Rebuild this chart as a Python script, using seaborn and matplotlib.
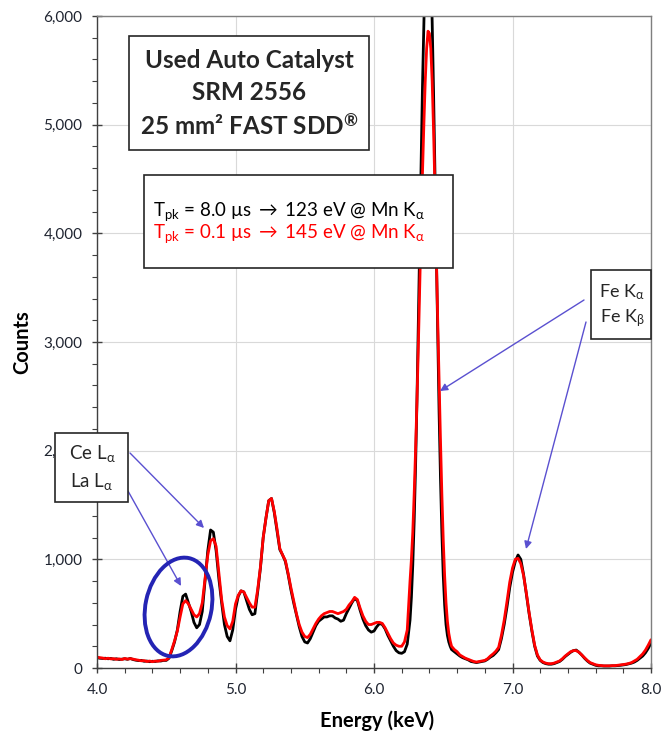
import numpy as np
import pandas as pd
import matplotlib
matplotlib.use("Agg")
import matplotlib.pyplot as plt
import seaborn as sns
from matplotlib.patches import Rectangle, Ellipse
from matplotlib.ticker import MultipleLocator, FuncFormatter

# ---------------- data ----------------
energy_kev = np.round(np.concatenate([
    np.arange(4.00, 6.245, 0.02),
    np.arange(6.26, 6.565, 0.01),
    np.arange(6.58, 8.005, 0.02)]), 2)

counts_8us = [
    # 4.00 - 4.48
    95, 90, 88, 90, 85, 88, 80, 85, 78, 82, 85, 80, 88, 78, 72, 68, 70, 62, 64, 58, 62, 60, 66, 64, 70,
    # 4.50 - 5.00
    70, 90, 160, 240, 350, 520, 660, 680, 600, 520, 420, 370, 400, 520, 800, 1080, 1270, 1250, 1080, 820,
    600, 400, 290, 250, 350, 540,
    # 5.02 - 6.24
    660, 710, 700, 620, 540, 490, 500, 700, 920, 1200, 1380, 1540, 1560, 1430, 1260, 1090, 1040, 980, 860, 720,
    600, 490, 380, 290, 240, 230, 270, 330, 390, 430, 450, 470, 470, 480, 480, 460, 450, 430, 440, 500,
    550, 600, 640, 620, 530, 450, 390, 350, 330, 340, 380, 410, 400, 360, 300, 250, 200, 160, 140, 135,
    150, 220,
    # 6.26 - 6.56 (0.01 step)
    440, 650, 950, 1350, 1850, 2450, 3150, 3900, 4650, 5350, 5950, 6450, 6800, 6900, 6800,
    6450, 5950, 5300, 4550, 3800, 3050, 2350, 1750, 1250, 850, 580, 400, 300, 240, 200, 170,
    # 6.58 - 8.00
    150, 130, 110, 95, 85, 75, 60, 55, 50, 55, 60, 65, 80, 100, 115, 140, 170,
    270, 400, 560, 740, 880, 980, 1040, 1000, 860, 680, 500, 340, 200, 110, 70,
    50, 40, 35, 35, 40, 50, 60, 80, 105, 125, 145, 160, 165, 145, 120,
    90, 65, 45, 35, 25, 20, 20, 18, 18, 18, 20, 20, 22, 25, 28,
    32, 38, 45, 55, 70, 90, 110, 140, 180, 230]

counts_01us = [
    # 4.00 - 4.48
    100, 95, 92, 85, 90, 84, 86, 80, 84, 78, 88, 82, 86, 82, 76, 72, 66, 68, 60, 64, 58, 64, 62, 70, 72,
    # 4.50 - 5.00
    75, 95, 170, 250, 340, 470, 590, 620, 590, 540, 490, 470, 500, 600, 820, 1040, 1170, 1190, 1120, 870,
    630, 470, 390, 360, 430, 590,
    # 5.02 - 6.24
    670, 710, 700, 650, 600, 560, 560, 720, 930, 1200, 1380, 1540, 1560, 1440, 1280, 1100, 1040, 990, 870, 740,
    620, 500, 400, 330, 290, 280, 310, 360, 410, 450, 480, 500, 510, 520, 520, 510, 500, 510, 520, 540,
    580, 610, 650, 630, 550, 480, 430, 400, 400, 410, 420, 420, 410, 370, 320, 270, 230, 210, 200, 200,
    240, 350,
    # 6.26 - 6.56 (0.01 step)
    800, 1000, 1250, 1600, 2000, 2450, 2950, 3500, 4050, 4550, 5000, 5400, 5700, 5860, 5840,
    5700, 5400, 4950, 4400, 3800, 3200, 2650, 2100, 1600, 1180, 850, 600, 430, 320, 250, 200,
    # 6.58 - 8.00
    170, 150, 120, 105, 90, 80, 70, 60, 55, 60, 65, 70, 85, 110, 130, 155, 190,
    300, 440, 610, 790, 920, 1000, 1010, 960, 850, 690, 510, 350, 210, 120, 75,
    55, 45, 40, 40, 45, 55, 65, 85, 110, 130, 150, 160, 160, 145, 120,
    95, 70, 50, 40, 30, 25, 22, 20, 20, 20, 22, 22, 25, 28, 32,
    36, 42, 50, 65, 80, 105, 130, 165, 210, 260]

series_names = ["8.0 µs", "0.1 µs"]
series_colors = ["#000000", "#FF0000"]
x_ticks = [4.0, 5.0, 6.0, 7.0, 8.0]
y_ticks = [0, 1000, 2000, 3000, 4000, 5000, 6000]

assert len(energy_kev) == len(counts_8us) == len(counts_01us), (len(energy_kev), len(counts_8us), len(counts_01us))

# ---------------- style ----------------
sns.set_theme(style="white")
plt.rcParams['font.family'] = ['Lato', 'DejaVu Sans']
plt.rcParams['mathtext.fontset'] = 'custom'
plt.rcParams['mathtext.rm'] = 'Lato'
plt.rcParams['mathtext.it'] = 'Lato:italic'
plt.rcParams['mathtext.bf'] = 'Lato:bold'
plt.rcParams['mathtext.fallback'] = 'stixsans'

W, H = 664, 737
fig = plt.figure(figsize=(W / 100, H / 100), dpi=100)
L, R, T, B = 97, 651, 16, 668
ax = fig.add_axes([L / W, 1 - B / H, (R - L) / W, (B - T) / H])

df = pd.DataFrame({"Energy": energy_kev, series_names[0]: counts_8us, series_names[1]: counts_01us})
long = df.melt(id_vars="Energy", var_name="Tpk", value_name="Counts")
sns.lineplot(data=long, x="Energy", y="Counts", hue="Tpk", hue_order=series_names,
             palette=dict(zip(series_names, series_colors)), linewidth=2.0,
             estimator=None, sort=False, legend=False, ax=ax)

ax.set_xlim(x_ticks[0], x_ticks[-1])
ax.set_ylim(y_ticks[0], y_ticks[-1])
ax.set_xticks(x_ticks)
ax.set_yticks(y_ticks)
ax.xaxis.set_minor_locator(MultipleLocator(0.2))
ax.yaxis.set_minor_locator(MultipleLocator(200))
ax.xaxis.set_major_formatter(FuncFormatter(lambda v, p: f"{v:.1f}"))
ax.yaxis.set_major_formatter(FuncFormatter(lambda v, p: f"{v:,.0f}"))
ax.grid(True, which='major', color='#D9D9D9', linewidth=0.8)
ax.set_axisbelow(True)
for s in ['left', 'bottom']:
    ax.spines[s].set_color('#404040')
    ax.spines[s].set_linewidth(1.0)
for s in ['top', 'right']:
    ax.spines[s].set_color('#7F7F7F')
    ax.spines[s].set_linewidth(1.0)
ax.tick_params(which='both', bottom=True, left=True, top=False, right=False)
ax.tick_params(which='major', direction='inout', length=7, width=1, color='#404040',
               labelsize=11, labelcolor='#1F2430')
ax.tick_params(axis='y', which='major', pad=7)
ax.tick_params(axis='x', which='major', pad=7)
ax.tick_params(which='minor', direction='out', length=3.5, width=0.8, color='#404040')
ax.set_xlabel('')
ax.set_ylabel('')

fig.text(22 / W, 1 - 342 / H, "Counts", rotation=90, ha='center', va='center',
         fontsize=14.5, fontweight='bold', color='black')
fig.text(377 / W, 1 - 721 / H, "Energy (keV)", ha='center', va='center',
         fontsize=14.5, fontweight='bold', color='black')


# ---------------- boxes & annotations ----------------
def px_rect(x0, y0, x1, y1, lw=1.2):
    fig.add_artist(Rectangle((x0 / W, 1 - y1 / H), (x1 - x0) / W, (y1 - y0) / H,
                             transform=fig.transFigure, facecolor='white',
                             edgecolor='#262626', linewidth=lw, zorder=5))


def px_text(x, y, s, ha='center', **kw):
    fig.text(x / W, 1 - y / H, s, ha=ha, va='center', zorder=6, **kw)


# title box
px_rect(129, 36, 369, 150)
px_text(249, 60, "Used Auto Catalyst", fontsize=17.5, fontweight='bold')
px_text(249, 93, "SRM 2556", fontsize=17.5, fontweight='bold')
px_text(249, 126, r"25 mm² FAST SDD$^{\mathbf{®}}$", fontsize=17.5, fontweight='bold')

# legend box
px_rect(144, 175, 453, 268)
px_text(153, 212, r"T$_{\mathrm{pk}}$ = 8.0 µs $\rightarrow$ 123 eV @ Mn K$_{\mathrm{\alpha}}$",
        ha='left', fontsize=13.5, color='black')
px_text(153, 234, r"T$_{\mathrm{pk}}$ = 0.1 µs $\rightarrow$ 145 eV @ Mn K$_{\mathrm{\alpha}}$",
        ha='left', fontsize=13.5, color='#FF0000')

# Ce / La box
px_rect(55, 433, 128, 502)
px_text(92, 453, r"Ce L$_{\mathrm{\alpha}}$", fontsize=13.5)
px_text(92, 482, r"La L$_{\mathrm{\alpha}}$", fontsize=13.5)

# Fe box
px_rect(591, 270, 651, 339)
px_text(622, 292, r"Fe K$_{\mathrm{\alpha}}$", fontsize=13)
px_text(622, 318, r"Fe K$_{\mathrm{\beta}}$", fontsize=13)

arrow_color = '#5A50D0'
arrows = [((130, 453), (204, 528)),
          ((128, 491), (181, 586)),
          ((584, 300), (440, 391)),
          ((586, 322), (526, 549))]
for (x0, y0), (x1, y1) in arrows:
    ax.annotate("", xy=(x1, H - y1), xytext=(x0, H - y0),
                xycoords='figure pixels', textcoords='figure pixels',
                arrowprops=dict(arrowstyle='-|>', color=arrow_color, lw=1.0,
                                mutation_scale=11, shrinkA=0, shrinkB=0),
                annotation_clip=False, zorder=7)

fig.add_artist(Ellipse((178.5 / 100, (H - 607) / 100), 0.66, 1.0, angle=-12,
                       transform=fig.dpi_scale_trans, facecolor='none',
                       edgecolor='#2424B4', linewidth=2.8, zorder=8))

fig.savefig("out.png", dpi=100)
